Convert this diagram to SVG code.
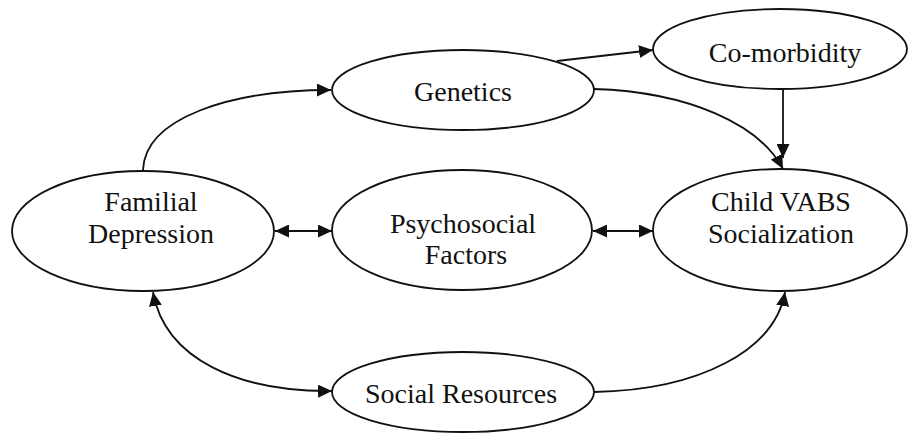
<svg xmlns="http://www.w3.org/2000/svg" width="909" height="435" viewBox="0 0 909 435">
<style>
.node ellipse{fill:#fff;stroke:#111;stroke-width:1.8}
.node text{font-family:'Liberation Serif','Times New Roman','DejaVu Serif',serif;font-size:28px;fill:#111;text-anchor:middle}
.edge{fill:none;stroke:#111;stroke-width:1.8}
</style>
<defs>
<marker id="ah" viewBox="0 0 14 13" refX="14" refY="6.5" markerWidth="14" markerHeight="13" markerUnits="userSpaceOnUse" orient="auto-start-reverse">
<path d="M0,0 L14,6.5 L0,13 z" fill="#111"/>
</marker>
</defs>
<rect width="909" height="435" fill="#fff"/>
<g id="connectors">
<path class="edge" d="M143,170 C145,118 230,90 331,90" marker-end="url(#ah)"/>
<path class="edge" d="M557,61 L653,50" marker-end="url(#ah)"/>
<path class="edge" d="M594,89 C690,92 760,125 783,169" marker-end="url(#ah)"/>
<path class="edge" d="M783,89 L783,158" marker-end="url(#ah)"/>
<path class="edge" d="M275,231 L332,231" marker-start="url(#ah)" marker-end="url(#ah)"/>
<path class="edge" d="M593,231 L653,231" marker-start="url(#ah)" marker-end="url(#ah)"/>
<path class="edge" d="M153,292 C165,360 240,392 332,391" marker-start="url(#ah)" marker-end="url(#ah)"/>
<path class="edge" d="M594,392 C700,390 775,350 785,292" marker-end="url(#ah)"/>
</g>
<g id="familial" class="node" font-family="Liberation Serif, serif">
<ellipse cx="143" cy="231" rx="131" ry="60"/>
<text x="151" y="211">Familial</text>
<text x="151" y="243">Depression</text>
</g>
<g id="genetics" class="node">
<ellipse cx="463" cy="90" rx="131" ry="40"/>
<text x="463" y="101">Genetics</text>
</g>
<g id="comorbidity" class="node">
<ellipse cx="780" cy="49" rx="127" ry="40"/>
<text x="785" y="62">Co-morbidity</text>
</g>
<g id="psychosocial" class="node">
<ellipse cx="462" cy="230" rx="130" ry="60"/>
<text x="463" y="233">Psychosocial</text>
<text x="466" y="264">Factors</text>
</g>
<g id="childvabs" class="node">
<ellipse cx="780" cy="230" rx="127" ry="61"/>
<text x="781" y="211">Child VABS</text>
<text x="781" y="243">Socialization</text>
</g>
<g id="socialresources" class="node">
<ellipse cx="463" cy="392" rx="131" ry="40"/>
<text x="461" y="403">Social Resources</text>
</g>
</svg>
